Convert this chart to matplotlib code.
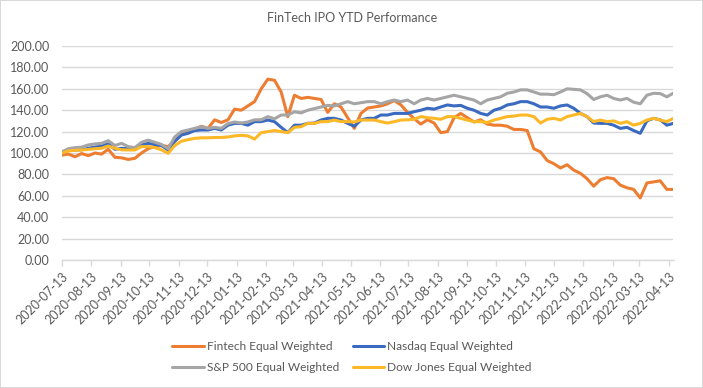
import matplotlib
matplotlib.use("Agg")
import matplotlib.pyplot as plt
import pandas as pd

# ---- data (weekly readings from the reference) ----
start_date = "2020-07-13"
n_weeks = 93

fintech = [98, 99, 96.5, 99.5, 97.5, 100, 99, 103.5, 96, 95.5,
           94, 95, 100, 104, 106, 107, 106, 111, 117, 120,
           122, 125, 123, 131, 128.5, 131, 141, 140, 144, 148,
           160, 169, 168, 157, 134, 154, 151, 152, 151, 150,
           138, 146, 143, 133, 123, 137, 142, 143, 144, 146,
           149, 145, 138, 132, 127, 131, 128, 119, 120, 133,
           137, 133, 129, 131, 127, 126, 126, 125, 122, 122,
           121, 104, 101, 93, 90, 86, 89, 84, 81, 76,
           69, 75, 77, 76, 70, 67.5, 66, 58, 72, 73,
           74, 66, 66]

nasdaq = [99.7, 102.5, 102.8, 103, 104.4, 105.5, 106.5, 108.5, 103.5, 104.4,
          104, 103.5, 107.5, 109, 108, 107, 102.8, 111, 116.8, 118.4,
          121, 121.5, 121.5, 123, 121.5, 126, 127.7, 127.7, 126, 129.3,
          129.3, 130.8, 129.3, 124, 119, 126, 126, 127.7, 128, 130.8,
          132.4, 132.4, 130.8, 127.7, 125, 130.8, 132.4, 132.4, 135.5, 135.5,
          137, 137, 137, 138.6, 140, 141.8, 141, 143, 144.9, 144,
          144.5, 141.8, 140, 137, 135.5, 140, 141.8, 144.9, 146, 148,
          148, 146, 143, 143, 141.8, 144, 144.9, 141.8, 137, 134,
          128, 127.7, 127.7, 126, 123, 124, 121, 118.4, 130, 132.4,
          131, 126, 127.7]

sp500 = [101, 104, 105, 105.5, 107.5, 108.5, 109, 111.5, 107, 109,
         106, 105, 110, 112, 110, 108, 104, 115, 120, 121.5,
         123, 124.5, 123, 124, 123, 127.5, 129, 128, 129, 131,
         131, 134, 132, 135.5, 135.5, 138.5, 137.5, 140, 141.5, 143,
         144.5, 144, 146, 148, 146, 147, 148, 148, 146, 148,
         149.5, 148, 149.5, 146, 149.5, 151, 149.5, 151, 152.5, 154,
         152.5, 151, 149.5, 146, 149.5, 151, 152.5, 155.8, 157, 159,
         159, 157, 155, 155, 154.5, 157, 160, 159.5, 159, 155.5,
         150, 152.5, 154, 151, 149.5, 151, 147.5, 146, 154, 155.8,
         155.5, 152.5, 156]

dow = [99.7, 102, 102.5, 102.8, 103.3, 104, 104.4, 106.5, 104.4, 103,
       102.8, 102.8, 106, 106, 105, 103, 99.7, 107, 111, 112.5,
       113.7, 114.2, 114.2, 114.5, 114.5, 115, 116, 116.5, 116, 113,
       119, 120, 121, 120, 119, 124, 124.6, 127.7, 127.7, 129.3,
       129.3, 130.8, 129.3, 129.3, 129, 130.8, 130.8, 130.8, 129.3, 128,
       129.3, 130.8, 131, 131.5, 134, 133, 132.4, 131.5, 134, 134,
       132.4, 130.8, 129.3, 129.3, 128.5, 130.8, 132.4, 134, 134.5, 135.5,
       135.5, 134, 128, 131.5, 132.4, 130.8, 134, 135.5, 137, 134,
       129.3, 130.8, 129.3, 130, 127.7, 129.3, 126, 127.7, 130.8, 132.4,
       130.8, 129.3, 132.4]

series_names = ["Fintech Equal Weighted", "Nasdaq Equal Weighted",
                "S&P 500 Equal Weighted", "Dow Jones Equal Weighted"]
series_colors = ["#ED7D31", "#3A6BC0", "#A5A5A5", "#FDB827"]
title = "FinTech IPO YTD Performance"
y_ticks = [0, 20, 40, 60, 80, 100, 120, 140, 160, 180, 200]
tick_labels = ["2020-07-13", "2020-08-13", "2020-09-13", "2020-10-13",
               "2020-11-13", "2020-12-13", "2021-01-13", "2021-02-13",
               "2021-03-13", "2021-04-13", "2021-05-13", "2021-06-13",
               "2021-07-13", "2021-08-13", "2021-09-13", "2021-10-13",
               "2021-11-13", "2021-12-13", "2022-01-13", "2022-02-13",
               "2022-03-13", "2022-04-13"]

dates = pd.date_range(start_date, periods=n_weeks, freq="7D")
tick_dates = pd.to_datetime(tick_labels)

plt.rcParams["font.family"] = ["Lato", "DejaVu Sans"]

fig = plt.figure(figsize=(7.03, 3.88), dpi=100)
fig.patch.set_facecolor("white")
fig.patch.set_edgecolor("#D9D9D9")
fig.patch.set_linewidth(1.2)

ax = fig.add_axes([61.7 / 703, 1 - 260 / 388, (673.5 - 61.7) / 703, (260 - 46) / 388])

all_series = [fintech, nasdaq, sp500, dow]
lines = []
for i, (vals, name, col) in enumerate(zip(all_series, series_names, series_colors)):
    ln, = ax.plot(dates, vals, color=col, lw=2.2, label=name, zorder=3 + i,
                  solid_joinstyle="round", solid_capstyle="round")
    lines.append(ln)

ax.set_ylim(0, 200)
ax.set_yticks(y_ticks)
ax.set_yticklabels([f"{v:.2f}" for v in y_ticks])
ax.set_xlim(dates[0], dates[-1])
ax.set_xticks(tick_dates)
ax.set_xticklabels(tick_labels, rotation=45, ha="right", rotation_mode="anchor")

ax.grid(axis="y", color="#D9D9D9", lw=1)
ax.set_axisbelow(True)
for s in ["top", "right", "left"]:
    ax.spines[s].set_visible(False)
ax.spines["bottom"].set_color("#D9D9D9")
ax.spines["bottom"].set_linewidth(1)
ax.tick_params(axis="y", length=0, pad=9, labelsize=9, labelcolor="#595959")
ax.tick_params(axis="x", length=4.5, width=1, color="#D9D9D9", pad=3,
               labelsize=9, labelcolor="#595959")

fig.text(352 / 703, 1 - 18 / 388, title, ha="center", va="center",
         fontsize=9, color="#595959")

order = [0, 2, 1, 3]
fig.legend([lines[i] for i in order], [series_names[i] for i in order],
           loc="center", bbox_to_anchor=(352 / 703, 1 - 357 / 388), ncol=2,
           frameon=False, fontsize=8.6, handlelength=2.6, columnspacing=1.2,
           labelspacing=0.85, handletextpad=0.25, labelcolor="#595959")

fig.savefig("out.png", dpi=100)
